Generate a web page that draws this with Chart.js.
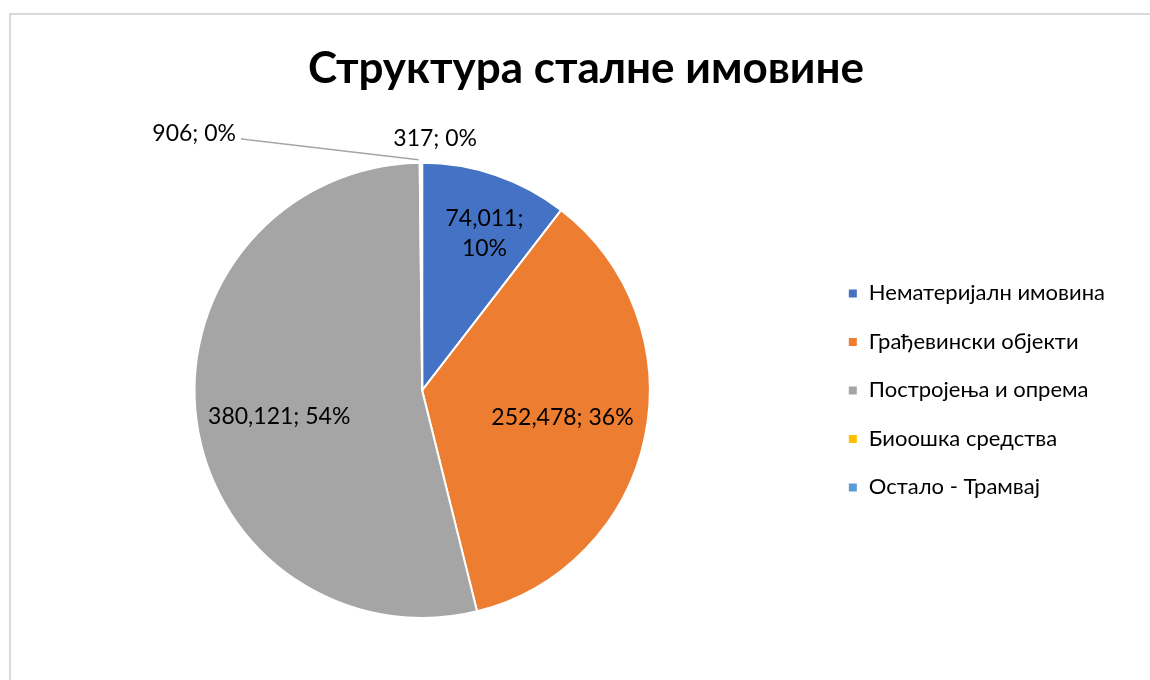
<!DOCTYPE html>
<html>
<head>
<meta charset="utf-8">
<script src="https://cdn.jsdelivr.net/npm/chart.js@4"></script>
<style>
	html, body { margin: 0; padding: 0; background: #fff; overflow: hidden; }
	#frame {
		position: absolute;
		left: 9px;
		top: 13px;
		width: 1150px;
		height: 680px;
		border: 2px solid #d9d9d9;
	}
</style>
</head>
<body>
<div id="frame"><canvas id="pieChart" width="1150" height="680"></canvas></div>
<script>
const categories = [
	"Нематеријалн имовина",
	"Грађевински објекти",
	"Постројења и опрема",
	"Биоошка средства",
	"Остало - Трамвај"
];
const values = [74011, 252478, 380121, 906, 317];
const colors = ["#4472C4", "#ED7D31", "#A5A5A5", "#FFC000", "#5B9BD5"];
const fontFamily = "Lato, 'Open Sans', sans-serif";

// where each label sits: along the slice middle (frac of radius) or next to the top of the pie
const labelPlace = [
	{ frac: 0.74, dx: 8, dy: 3, split: true },
	{ frac: 0.63, dx: 0, dy: -2 },
	{ frac: 0.62, dx: -3, dy: 8 },
	{ top: true, dx: -228, dy: -29, leader: true },
	{ top: true, dx: 13, dy: -24 }
];

const pieLabels = {
	id: "pieLabels",
	afterLayout(chart) {
		// title centred over the whole canvas, not only between the paddings
		chart.titleBlock.left = 0;
		chart.titleBlock.right = chart.width;
	},
	afterDatasetsDraw(chart) {
		const ctx = chart.ctx;
		const meta = chart.getDatasetMeta(0);
		const total = values.reduce((a, b) => a + b, 0);
		ctx.save();
		ctx.font = "23px " + fontFamily;
		ctx.fillStyle = "#000";
		ctx.textAlign = "center";
		ctx.textBaseline = "middle";
		meta.data.forEach((arc, i) => {
			const p = arc.getProps(["x", "y", "startAngle", "endAngle", "outerRadius"], true);
			const place = labelPlace[i];
			const num = values[i].toLocaleString("en-US");
			const pct = Math.round(values[i] / total * 100) + "%";
			let x, y;
			if (place.top) {
				x = p.x + place.dx;
				y = p.y - p.outerRadius + place.dy;
			} else {
				const mid = (p.startAngle + p.endAngle) / 2;
				x = p.x + Math.cos(mid) * p.outerRadius * place.frac + place.dx;
				y = p.y + Math.sin(mid) * p.outerRadius * place.frac + place.dy;
			}
			if (place.split) {
				ctx.fillText(num + ";", x, y - 15);
				ctx.fillText(pct, x, y + 15);
			} else {
				ctx.fillText(num + "; " + pct, x, y);
			}
			if (place.leader) {
				const w = ctx.measureText(num + "; " + pct).width;
				const mid = (p.startAngle + p.endAngle) / 2;
				ctx.strokeStyle = "#a6a6a6";
				ctx.lineWidth = 1.5;
				ctx.beginPath();
				ctx.moveTo(x + w / 2 + 5, y + 5);
				ctx.lineTo(x + w / 2 + 12, y + 6);
				ctx.lineTo(p.x + Math.cos(mid) * p.outerRadius - 2, p.y + Math.sin(mid) * p.outerRadius - 3);
				ctx.stroke();
			}
		});
		ctx.restore();
	}
};

new Chart(document.getElementById("pieChart"), {
	type: "pie",
	data: {
		labels: categories,
		datasets: [{
			data: values,
			backgroundColor: colors,
			borderColor: "#fff",
			borderWidth: 2
		}]
	},
	options: {
		responsive: false,
		animation: false,
		layout: { padding: { left: 12, right: 46, top: 0, bottom: 76 } },
		plugins: {
			title: {
				display: true,
				text: "Структура сталне имовине",
				color: "#000",
				font: { family: fontFamily, size: 44, weight: "bold" },
				padding: { top: 27, bottom: 67 }
			},
			legend: {
				position: "right",
				fullSize: false,
				labels: {
					color: "#000",
					boxWidth: 10,
					boxHeight: 10,
					padding: 26.5,
					font: { family: fontFamily, size: 22 }
				}
			},
			tooltip: { enabled: false }
		}
	},
	plugins: [pieLabels]
});
</script>
</body>
</html>
